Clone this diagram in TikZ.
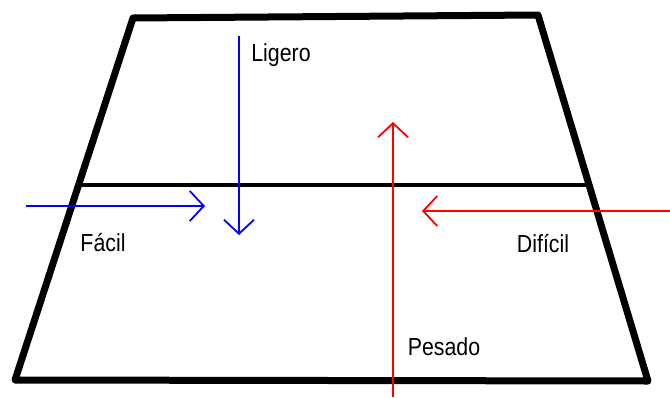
\documentclass[tikz,border=0pt]{standalone}
\usepackage{fontspec}
\setmainfont{Liberation Sans}
\usetikzlibrary{arrows.meta}
\tikzset{
  frame/.style={line width=7pt, line join=round, line cap=round},
  divider/.style={line width=4pt},
  easy/.style={draw=blue, line width=1.8pt, -{Straight Barb[length=14pt,width=30pt,line width=1.8pt]}},
  hard/.style={draw=red, line width=1.8pt, -{Straight Barb[length=14pt,width=30pt,line width=1.8pt]}},
  lbl/.style={font=\fontsize{22pt}{24pt}\selectfont, inner sep=0pt}
}
\newcommand{\tallt}[1]{\scalebox{0.97}[1.12]{#1}}
\begin{document}
\begin{tikzpicture}[x=1pt,y=-1pt]
\useasboundingbox (0,0) rectangle (670,397);
\coordinate (tl) at (133,18);
\coordinate (tr) at (538,15);
\coordinate (br) at (648,381);
\coordinate (bl) at (15,380);
\draw[frame] (tl) -- (tr) -- (br) -- (bl) -- cycle;
\coordinate (ml) at (78.6,185);
\coordinate (mr) at (589,185);
\draw[divider] (ml) -- (mr);
% arrows
\coordinate (ls) at (239,36);
\coordinate (le) at (239,235);
\draw[easy] (ls) -- (le);
\coordinate (fs) at (26,206);
\coordinate (fe) at (205,206);
\draw[easy] (fs) -- (fe);
\coordinate (ps) at (393,397);
\coordinate (pe) at (393,122);
\draw[hard] (ps) -- (pe);
\coordinate (ds) at (670,211);
\coordinate (de) at (422,211);
\draw[hard] (ds) -- (de);
% labels
\node[lbl] (ligero) at (281,55) {\tallt{Ligero}};
\node[lbl] (facil) at (103,243) {\tallt{Fácil}};
\node[lbl] (dificil) at (543,244) {\tallt{Difícil}};
\node[lbl] (pesado) at (444,347) {\tallt{Pesado}};
\end{tikzpicture}
\end{document}
